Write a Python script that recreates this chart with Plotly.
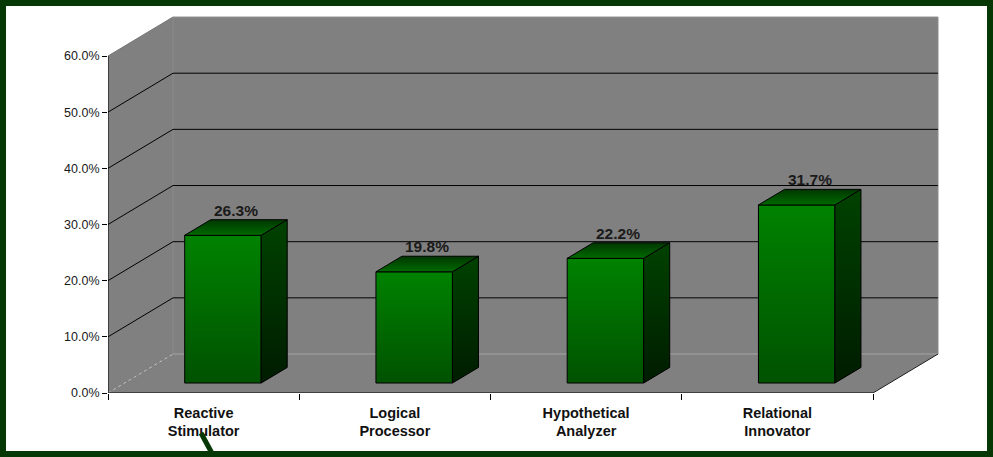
import plotly.graph_objects as go

# ---- data ----
categories = ["Reactive<br>Stimulator", "Logical<br>Processor", "Hypothetical<br>Analyzer", "Relational<br>Innovator"]
values = [0.263, 0.198, 0.222, 0.317]
y_ticks = [0.0, 0.1, 0.2, 0.3, 0.4, 0.5, 0.6]

# ---- 3D styling parameters (data units) ----
DX, DY = 0.34, 0.0694          # depth offset of the chart box
F1, F2 = 0.256, 0.656          # bar front/back position inside depth
HALF = 0.2                     # half bar width
SHIFT = 0.014                  # small horizontal bar offset
YMAX = 0.6
X0, X1 = -0.5, len(categories) - 0.5
FONT = "Arial, Liberation Sans, sans-serif"
WALL = "#808080"
BORDER = "#053805"

fig = go.Figure()
shapes = []

def poly(pts):
    return "M " + " L ".join(f"{x},{y}" for x, y in pts) + " Z"

# side wall, back wall, floor
shapes.append(dict(type="path", xref="x", yref="y", layer="below",
                   path=poly([(X0, 0), (X0, YMAX), (X0 + DX, YMAX + DY), (X0 + DX, DY)]),
                   fillcolor=WALL, line=dict(color="#777777", width=1)))
shapes.append(dict(type="path", xref="x", yref="y", layer="below",
                   path=poly([(X0 + DX, DY), (X0 + DX, YMAX + DY), (X1 + DX, YMAX + DY), (X1 + DX, DY)]),
                   fillcolor=WALL, line=dict(color="#8f8f8f", width=1)))
shapes.append(dict(type="path", xref="x", yref="y", layer="below",
                   path=poly([(X0, 0), (X1, 0), (X1 + DX, DY), (X0 + DX, DY)]),
                   fillcolor=WALL, line=dict(width=0)))
# floor edges
shapes.append(dict(type="line", xref="x", yref="y", layer="below",
                   x0=X0, y0=0, x1=X0 + DX, y1=DY, line=dict(color="#c0c0c0", width=1, dash="dot")))
shapes.append(dict(type="line", xref="x", yref="y", layer="below",
                   x0=X0 + DX, y0=DY, x1=X1 + DX, y1=DY, line=dict(color="#a0a0a0", width=1)))
shapes.append(dict(type="line", xref="x", yref="y", layer="below",
                   x0=X1, y0=0, x1=X1 + DX, y1=DY, line=dict(color="#202020", width=1)))
# gridlines
for t in y_ticks[1:-1]:
    shapes.append(dict(type="path", xref="x", yref="y", layer="below",
                       path=f"M {X0},{t} L {X0 + DX},{t + DY} L {X1 + DX},{t + DY}",
                       line=dict(color="#000000", width=1)))
# axis lines
shapes.append(dict(type="line", xref="x", yref="y", x0=X0, y0=0, x1=X0, y1=YMAX,
                   line=dict(color="#000000", width=1)))
shapes.append(dict(type="line", xref="x", yref="y", x0=X0, y0=0, x1=X1, y1=0,
                   line=dict(color="#000000", width=1)))

# bars
front_cs = [[0, "#005200"], [1, "#008200"]]
side_cs = [[0, "#001c00"], [1, "#004200"]]
top_cs = [[0, "#006a00"], [1, "#003600"]]
for i, v in enumerate(values):
    xl, xr = i - HALF + F1 * DX + SHIFT, i + HALF + F1 * DX + SHIFT
    yb, yt = F1 * DY, v + F1 * DY
    bx, by = (F2 - F1) * DX, (F2 - F1) * DY
    faces = [
        ([xl, xr, xr, xl, xl], [yb, yb, yt, yt, yb], front_cs),
        ([xr, xr + bx, xr + bx, xr, xr], [yb, yb + by, yt + by, yt, yb], side_cs),
        ([xl, xr, xr + bx, xl + bx, xl], [yt, yt, yt + by, yt + by, yt], top_cs),
    ]
    for fx, fy, cs in faces:
        fig.add_trace(go.Scatter(x=fx, y=fy, mode="lines", fill="toself",
                                 fillgradient=dict(type="vertical", colorscale=cs),
                                 line=dict(color="#000000", width=1),
                                 hoverinfo="skip", showlegend=False))
    fig.add_annotation(x=i + (F1 + F2) / 2 * DX + SHIFT, y=v + F2 * DY, xref="x", yref="y",
                       text=f"{v * 100:.1f}%", showarrow=False, yanchor="bottom", yshift=-1,
                       font=dict(family=FONT, size=15.5, color="#1a1a1a", weight="bold"))

# outer frame and stray stroke (figure decoration)
L, B, W, H = 108, 64, 993, 457
pw, ph = W - L, H - B
def px(x):
    return (x - L) / pw
def py(y):
    return (H - B - y) / ph
shapes.append(dict(type="rect", xref="paper", yref="paper",
                   x0=px(3), x1=px(W - 3), y0=py(H - 3), y1=py(3),
                   line=dict(color=BORDER, width=6), fillcolor="rgba(0,0,0,0)"))
shapes.append(dict(type="line", xref="paper", yref="paper",
                   x0=px(201), y0=py(433), x1=px(214), y1=py(457),
                   line=dict(color=BORDER, width=5)))

fig.update_layout(
    width=W, height=H,
    margin=dict(l=L, r=0, t=0, b=B),
    paper_bgcolor="white", plot_bgcolor="white",
    shapes=shapes, showlegend=False,
    xaxis=dict(range=[X0, X0 + pw / 191.25], tickmode="array",
               tickvals=list(range(len(categories))), ticktext=categories,
               ticks="", showgrid=False, zeroline=False, showline=False,
               tickfont=dict(family=FONT, size=14.5, color="#111111", weight="bold"),
               ticklabelstandoff=9,
               minor=dict(tickmode="array", tickvals=[X0 + k for k in range(len(categories) + 1)],
                          ticks="outside", ticklen=6, tickcolor="#000000", showgrid=False)),
    yaxis=dict(range=[0, ph / 561.67], tickmode="array", tickvals=y_ticks,
               tickformat=".1%", ticks="outside", ticklen=5, tickcolor="#000000",
               showgrid=False, zeroline=False, showline=False,
               tickfont=dict(family=FONT, size=12.5, color="#1a1a1a")),
)

fig.write_html("out.html")
